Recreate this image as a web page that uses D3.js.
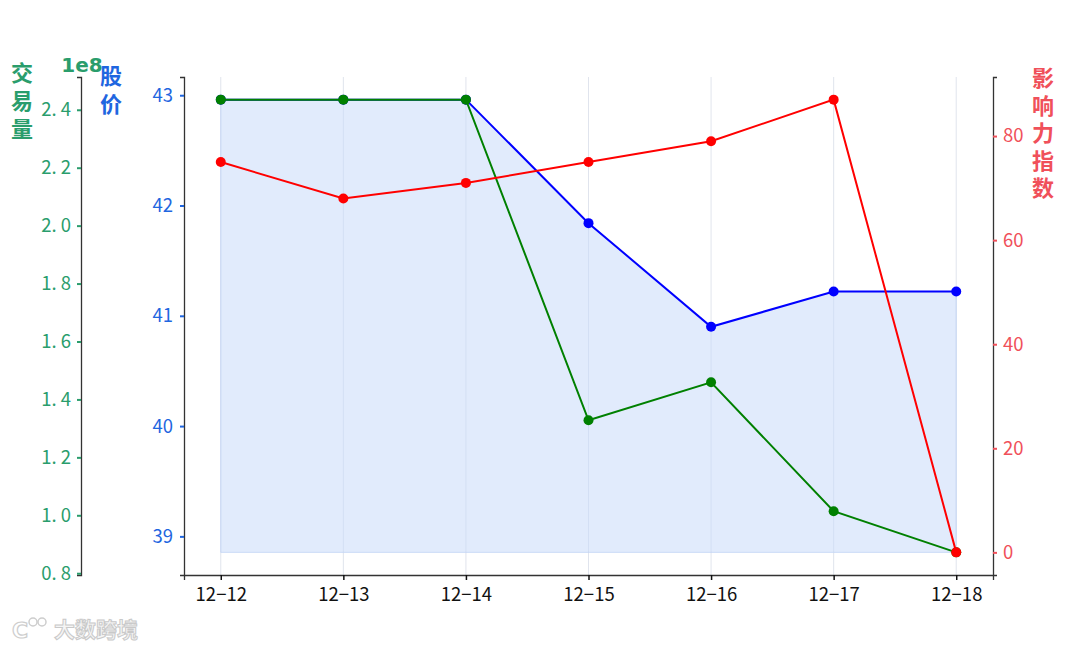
<!DOCTYPE html>
<html><head><meta charset="utf-8">
<script src="https://cdn.jsdelivr.net/npm/d3@7"></script>
<style>
html,body{margin:0;padding:0;background:#fff;}
text{font-family:"Noto Sans CJK SC","DejaVu Sans",sans-serif;}
</style></head>
<body><svg id="c" width="1080" height="648"></svg>
<script>
const dates = ["12−12","12−13","12−14","12−15","12−16","12−17","12−18"];
const price = [42.96,42.96,42.96,41.84,40.9,41.22,41.22];
const volume = [2.435,2.435,2.435,1.328,1.459,1.014,0.872]; // x 1e8
const influence = [75,68,71,75,79,87,0];
const priceTicks = [39,40,41,42,43];
const volumeTicks = [0.8,1.0,1.2,1.4,1.6,1.8,2.0,2.2,2.4];
const influenceTicks = [0,20,40,60,80];

const svg = d3.select("#c");
const L = 184, R = 993, T = 77, B = 575;
const cGreen = "#2a9d6c", cBlue = "#1f66e0", cRed = "#f0505a";

const n = dates.length;
const x = d3.scaleLinear().domain([-0.3, n - 1 + 0.3]).range([L, R]);
const pad = (lo, hi) => { const m = (hi - lo) * 0.05; return [lo - m, hi + m]; };
const fillBase = d3.min(price) * 0.95;
const yP = d3.scaleLinear().domain(pad(fillBase, d3.max(price))).range([B, T]);
const yV = d3.scaleLinear().domain(pad(d3.min(volume), d3.max(volume))).range([B, T]);
const yI = d3.scaleLinear().domain(pad(d3.min(influence), d3.max(influence))).range([B, T]);

// grid
svg.append("g").selectAll("line").data(d3.range(n)).join("line")
  .attr("x1", i => x(i)).attr("x2", i => x(i)).attr("y1", T).attr("y2", B)
  .attr("stroke", "#d8dde8").attr("stroke-width", 0.8);

// fill
svg.append("path").datum(price)
  .attr("d", d3.area().x((d, i) => x(i)).y0(yP(fillBase)).y1(d => yP(d)))
  .attr("fill", "#c9dafa").attr("fill-opacity", 0.55)
  .attr("stroke", "#c2d3f5").attr("stroke-width", 0.8);

function series(vals, y, color) {
  const g = svg.append("g");
  g.append("path").datum(vals)
    .attr("d", d3.line().x((d, i) => x(i)).y(d => y(d)))
    .attr("fill", "none").attr("stroke", color).attr("stroke-width", 2);
  g.selectAll("circle").data(vals).join("circle")
    .attr("cx", (d, i) => x(i)).attr("cy", d => y(d)).attr("r", 5).attr("fill", color);
}
series(price, yP, "#0000ff");
series(volume, yV, "#008000");
series(influence, yI, "#ff0000");

// axes
function styleAxis(g, color, lineColor) {
  g.select(".domain").attr("stroke", lineColor).attr("stroke-width", 1.3);
  g.selectAll(".tick line").attr("stroke", color).attr("stroke-width", 2);
  g.selectAll(".tick text").attr("fill", color).style("font-size", "18.5px")
   .style("font-family", '"Noto Sans CJK SC",sans-serif');
}
const gx = svg.append("g").attr("transform", `translate(0,${B})`)
  .call(d3.axisBottom(x).tickValues(d3.range(n)).tickFormat(i => dates[i]).tickSizeOuter(0).tickSize(5).tickPadding(8));
styleAxis(gx, "#111", "#333");
gx.selectAll(".tick line").attr("stroke-width", 1.5);

const gp = svg.append("g").attr("transform", `translate(${L},0)`)
  .call(d3.axisLeft(yP).tickValues(priceTicks).tickFormat(d3.format("d")).tickSizeOuter(0).tickSize(4).tickPadding(7));
styleAxis(gp, cBlue, "#333");

const gv = svg.append("g").attr("transform", `translate(81,0)`)
  .call(d3.axisLeft(yV).tickValues(volumeTicks).tickFormat(d => d3.format(".1f")(d).replace(".", ". ")).tickSizeOuter(0).tickSize(4).tickPadding(6));
styleAxis(gv, cGreen, "#333");

const gi = svg.append("g").attr("transform", `translate(${R},0)`)
  .call(d3.axisRight(yI).tickValues(influenceTicks).tickFormat(d3.format("d")).tickSizeOuter(0).tickSize(4).tickPadding(6));
styleAxis(gi, cRed, "#333");

// axis labels (vertical writing)
function vlabel(str, cx, top, spacing, color) {
  svg.append("text").attr("x", cx).attr("y", top).attr("fill", color).attr("font-weight", "bold")
    .style("font-size", "22px").style("writing-mode", "vertical-rl")
    .style("letter-spacing", spacing + "px").attr("text-anchor", "start").text(str);
}
vlabel("交易量", 22, 62, 6, cGreen);
vlabel("股价", 111, 65, 6, cBlue);
vlabel("影响力指数", 1043, 67, 5.5, cRed);
svg.append("text").attr("x", 82).attr("y", 72).attr("text-anchor", "middle")
  .attr("fill", cGreen).attr("font-weight", "bold").style("font-size", "20px")
  .style("font-family", '"DejaVu Sans",sans-serif').text("1e8");

// watermark
const wm = svg.append("g").attr("opacity", 0.9);
wm.append("text").attr("x", 12).attr("y", 638).style("font-size", "22px").attr("font-weight", "bold")
  .attr("fill", "#fff").attr("stroke", "#c8c8c8").attr("stroke-width", 1.2).style("font-family", '"DejaVu Sans",sans-serif').text("C");
wm.append("circle").attr("cx", 33).attr("cy", 622).attr("r", 4).attr("fill", "none").attr("stroke", "#c8c8c8").attr("stroke-width", 1.5);
wm.append("circle").attr("cx", 42).attr("cy", 622).attr("r", 4).attr("fill", "none").attr("stroke", "#c8c8c8").attr("stroke-width", 1.5);
wm.append("text").attr("x", 54).attr("y", 637).style("font-size", "21px").attr("font-weight", "bold")
  .attr("fill", "#f4f4f4").attr("stroke", "#c4c4c4").attr("stroke-width", 1).text("大数跨境");
</script></body></html>
